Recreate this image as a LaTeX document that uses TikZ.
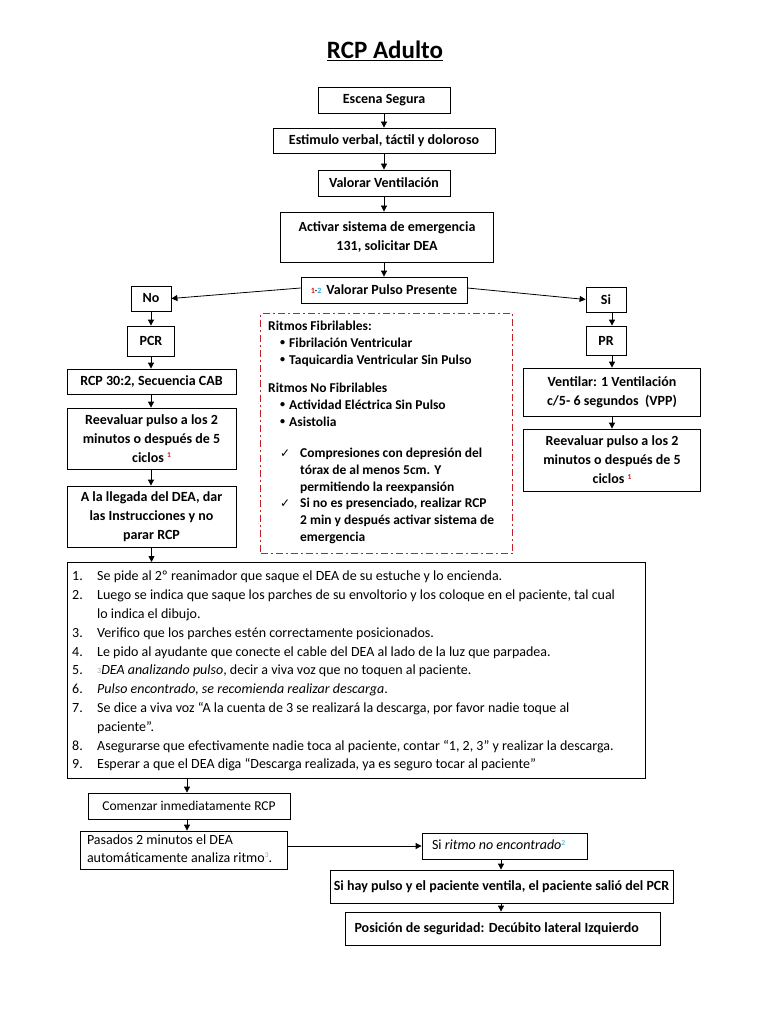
\documentclass[tikz,border=0pt]{standalone}
\usepackage{fontspec}
\setmainfont{Carlito}
\newfontfamily\dejavu{DejaVu Sans}
\usetikzlibrary{arrows.meta,calc}
\definecolor{dred}{HTML}{C42028}
\definecolor{fnred}{HTML}{E01010}
\definecolor{fncyan}{HTML}{2AA8E0}
\definecolor{fngray}{HTML}{A89CC0}
\newcommand\fnm[2]{\raisebox{4.5pt}{\fontsize{7.5}{8}\selectfont\textcolor{#1}{#2}}}
\newcommand\fnl[2]{\raisebox{1pt}{\fontsize{8}{8}\selectfont\textcolor{#1}{#2}}}
\newcommand\bul{\hspace*{12pt}\raisebox{1.5pt}{\scalebox{0.75}{\textbullet}}\hspace{4pt}}
\newcommand\chk{\hspace*{12pt}\makebox[20pt][l]{\dejavu\mdseries\fontsize{12}{12}\selectfont ✓}}
\newcommand\lft[2]{\makebox[#1][l]{\begin{tabular}{@{}l@{}}#2\end{tabular}}}
\begin{document}
\begin{tikzpicture}[x=1pt,y=-1pt,
  box/.style={draw, line width=0.8pt, inner sep=0pt, align=center,
    font=\fontsize{14}{19}\selectfont\bfseries},
  rbox/.style={box, font=\fontsize{14}{19}\selectfont},
  arr/.style={-{Triangle[length=6pt,width=6pt]}, line width=0.8pt},
  ritbox/.style={draw=dred, line width=1.3pt, dash pattern=on 7pt off 3pt on 2pt off 3pt},
  txt/.style={inner sep=0pt, align=left}]
\useasboundingbox (0,0) rectangle (768,1024);
\fill[white] (0,0) rectangle (768,1024);

\node[inner sep=0pt] (title) at (385,51) {\fontsize{25}{30}\selectfont\bfseries\underline{RCP Adulto}};

% central column
\node[box, minimum width=132, minimum height=26] (esc) at (384,100) {Escena Segura};
\node[box, minimum width=222, minimum height=25] (est) at (384,140.5) {Estimulo verbal, táctil y doloroso};
\node[box, minimum width=132, minimum height=26] (vv) at (384,183) {Valorar Ventilación};
\node[box, minimum width=213, minimum height=50] (act) at (387,237) {Activar sistema de emergencia\\131, solicitar DEA};
\node[box, minimum width=166, minimum height=26] (vp) at (384,290) {\fnl{fnred}{1}\fnl{black}{-}\fnl{fncyan}{2}\hspace{5pt}Valorar Pulso Presente};

\draw[arr] (esc.south) -- (est.north);
\draw[arr] (est.south) -- (vv.north);
\draw[arr] (vv.south) -- (vv.south |- act.north);
\draw[arr] (act.south -| vv.south) -- (vp.north);

% left column
\node[box, minimum width=40, minimum height=25] (no) at (151,298.5) {No};
\node[box, minimum width=47, minimum height=30] (pcr) at (151,341) {PCR};
\node[box, minimum width=169, minimum height=25] (rcp) at (151.5,381.5) {RCP 30:2, Secuencia CAB};
\node[box, minimum width=169, minimum height=61] (reevl) at (151.5,438.5) {Reevaluar pulso a los 2\\minutos o después de 5\\ciclos \fnm{fnred}{1}};
\node[box, minimum width=169, minimum height=61] (lleg) at (151.5,516.5) {A la llegada del DEA, dar\\las Instrucciones y no\\parar RCP};

\draw[arr] ([yshift=2pt]vp.west) -- (no.east);
\draw[arr] (no.south) -- (pcr.north);
\draw[arr] (pcr.south) -- (pcr.south |- rcp.north);
\draw[arr] (pcr.south |- rcp.south) -- (pcr.south |- reevl.north);
\draw[arr] (pcr.south |- reevl.south) -- (pcr.south |- lleg.north);

% right column
\coordinate (colR) at (612,0);
\node[box, minimum width=40, minimum height=25] (si) at (606,299.5) {Si};
\node[box, minimum width=40, minimum height=29] (pr) at (606,340.5) {PR};
\node[box, minimum width=177, minimum height=48] (vent) at (612,392) {Ventilar: 1 Ventilación\\c/5- 6 segundos\ \ (VPP)};
\node[box, minimum width=177, minimum height=62] (reevr) at (612,460) {Reevaluar pulso a los 2\\minutos o después de 5\\ciclos \fnm{fnred}{1}};

\draw[arr] ([yshift=2pt]vp.east) -- (si.west);
\draw[arr] (si.south -| colR) -- (pr.north -| colR);
\draw[arr] (pr.south -| colR) -- (vent.north -| colR);
\draw[arr] (vent.south -| colR) -- (reevr.north -| colR);

% dashed box
\node[ritbox, minimum width=252, minimum height=240, anchor=north west, inner sep=0pt] (rit) at (260,313) {};
\node[txt, anchor=north west, font=\fontsize{13.5}{16.7}\selectfont\bfseries] (rittxt) at (268,321)
{Ritmos Fibrilables:\\
\bul Fibrilación Ventricular\\
\bul Taquicardia Ventricular Sin Pulso\\[12pt]
Ritmos No Fibrilables\\
\bul Actividad Eléctrica Sin Pulso\\
\bul Asistolia\\[15pt]
\chk Compresiones con depresión del\\
\hspace*{32pt}tórax de al menos 5cm. Y\\
\hspace*{32pt}permitiendo la reexpansión\\
\chk Si no es presenciado, realizar RCP\\
\hspace*{32pt}2 min y después activar sistema de\\
\hspace*{32pt}emergencia};

% big list box
\node[draw, line width=0.8pt, minimum width=578, minimum height=216, anchor=north west, inner sep=0pt] (big) at (67,562) {};
\node[txt, anchor=north west, font=\fontsize{14}{18.8}\selectfont] (bigtxt) at (72,571)
{\makebox[25pt][l]{1.}Se pide al 2º reanimador que saque el DEA de su estuche y lo encienda.\\
\makebox[25pt][l]{2.}Luego se indica que saque los parches de su envoltorio y los coloque en el paciente, tal cual\\
\hspace*{25pt}lo indica el dibujo.\\
\makebox[25pt][l]{3.}Verifico que los parches estén correctamente posicionados.\\
\makebox[25pt][l]{4.}Le pido al ayudante que conecte el cable del DEA al lado de la luz que parpadea.\\
\makebox[25pt][l]{5.}\fnl{fngray}{3}\textit{DEA analizando pulso}, decir a viva voz que no toquen al paciente.\\
\makebox[25pt][l]{6.}\textit{Pulso encontrado, se recomienda realizar descarga}.\\
\makebox[25pt][l]{7.}Se dice a viva voz “A la cuenta de 3 se realizará la descarga, por favor nadie toque al\\
\hspace*{25pt}paciente”.\\
\makebox[25pt][l]{8.}Asegurarse que efectivamente nadie toca al paciente, contar “1, 2, 3” y realizar la descarga.\\
\makebox[25pt][l]{9.}Esperar a que el DEA diga “Descarga realizada, ya es seguro tocar al paciente”};

\draw[arr] (lleg.south) -- (lleg.south |- big.north);

% bottom
\coordinate (colC) at (187,0);
\coordinate (colB) at (501,0);
\node[rbox, minimum width=202, minimum height=26, font=\fontsize{13.5}{16}\selectfont] (com) at (189,806) {Comenzar inmediatamente RCP};
\node[rbox, minimum width=207, minimum height=38, font=\fontsize{14}{17.5}\selectfont] (pas) at (183.5,850) {\lft{193pt}{Pasados 2 minutos el DEA\\automáticamente analiza ritmo\fnm{fngray}{3}.}};
\node[rbox, minimum width=165, minimum height=26] (sir) at (504.5,846) {\lft{145pt}{Si \textit{ritmo no encontrado}\fnm{fncyan}{2}}};
\node[box, minimum width=343, minimum height=33] (shp) at (501.5,886.5) {Si hay pulso y el paciente ventila, el paciente salió del PCR};
\node[box, minimum width=315, minimum height=33] (pos) at (502.5,928.5) {\lft{296pt}{Posición de seguridad: Decúbito lateral Izquierdo}};

\draw[arr] (big.south -| colC) -- (com.north -| colC);
\draw[arr] (com.south -| colC) -- (pas.north -| colC);
\draw[arr] (pas.east |- sir.west) -- (sir.west);
\draw[arr] (sir.south -| colB) -- (shp.north -| colB);
\draw[arr] (shp.south -| colB) -- (pos.north -| colB);
\end{tikzpicture}
\end{document}
